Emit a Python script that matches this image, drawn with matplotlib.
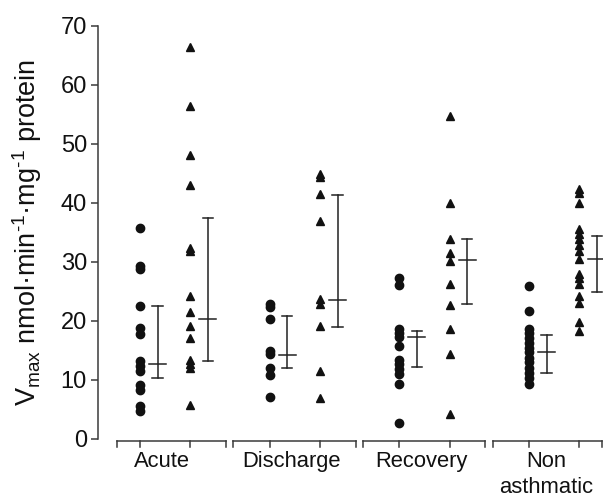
import matplotlib
matplotlib.use("Agg")
import matplotlib.pyplot as plt
import matplotlib.transforms as mtransforms

plt.rcParams['font.family'] = ['Liberation Sans', 'DejaVu Sans']
plt.rcParams['mathtext.fontset'] = 'custom'
plt.rcParams['mathtext.rm'] = 'Liberation Sans'
plt.rcParams['mathtext.it'] = 'Liberation Sans:italic'
plt.rcParams['mathtext.bf'] = 'Liberation Sans:bold'

# ---- data ----
categories = ["Acute", "Discharge", "Recovery", "Non\nasthmatic"]

circles = [
    [35.7, 29.3, 28.7, 22.5, 18.8, 17.7, 13.1, 12.3, 11.4, 9.1, 8.3, 5.5, 4.6],
    [22.9, 22.4, 20.2, 14.8, 14.3, 12.0, 10.7, 7.1],
    [27.3, 26.0, 18.6, 17.9, 17.3, 15.7, 13.4, 12.6, 11.8, 11.0, 9.2, 2.7],
    [25.9, 21.6, 18.6, 17.9, 17.0, 16.2, 15.4, 14.6, 13.6, 12.9, 12.0, 11.1, 10.2, 9.3],
]
triangles = [
    [66.4, 56.5, 48.1, 43.0, 32.4, 31.8, 24.2, 21.5, 19.1, 17.1, 13.4, 12.6, 11.9, 5.7],
    [44.9, 44.3, 41.5, 36.9, 23.6, 22.9, 19.1, 11.4, 6.9],
    [54.7, 39.9, 33.9, 31.4, 30.2, 26.3, 22.6, 18.5, 14.3, 4.1],
    [42.4, 41.6, 40.0, 35.5, 34.7, 33.8, 32.8, 31.9, 30.5, 28.0, 27.3, 26.3, 24.1, 23.0, 19.7, 18.2],
]
# median / lower / upper for each column
circ_mid = [12.7, 14.2, 17.3, 14.7]
circ_lo = [10.3, 12.0, 12.2, 11.2]
circ_hi = [22.5, 20.8, 18.3, 17.6]
tri_mid = [20.3, 23.5, 30.3, 30.5]
tri_lo = [13.1, 18.9, 22.8, 24.8]
tri_hi = [37.4, 41.3, 33.9, 34.4]

yticks = [0, 10, 20, 30, 40, 50, 60, 70]

# ---- figure ----
W, H = 603, 497
fig = plt.figure(figsize=(W / 100, H / 100), dpi=100)
ax = fig.add_axes([98 / W, (H - 438.5) / H, 505 / W, 412.5 / H])

tri_off = 0.388
err_off = 0.135
x_lo, x_hi = -0.177, 3.562
ax.set_xlim(-0.3238, 3.5698)
ax.set_ylim(0, 70)

ink = '#111111'
axis_col = '#3a3a3a'

for i in range(4):
    xc = i
    xt = i + tri_off
    ax.plot([xc] * len(circles[i]), circles[i], 'o', color=ink, ms=6.0,
            mec=ink, clip_on=False, zorder=3)
    ax.plot([xt] * len(triangles[i]), triangles[i], '^', color=ink, ms=6.4,
            mec=ink, clip_on=False, zorder=3)
    for x0, mid, lo, hi in [(xc + err_off, circ_mid[i], circ_lo[i], circ_hi[i]),
                            (xt + err_off, tri_mid[i], tri_lo[i], tri_hi[i])]:
        ax.plot([x0, x0], [lo, hi], color='#222222', lw=1.1, clip_on=False)
        for yy in (lo, hi):
            ax.plot([x0 - 0.04, x0 + 0.04], [yy, yy], color='#222222', lw=1.1, clip_on=False)
        ax.plot([x0 - 0.065, x0 + 0.065], [mid, mid], color='#222222', lw=1.1, clip_on=False)

# bracket axes below
trans = mtransforms.blended_transform_factory(ax.transData, ax.transAxes)
yb = -2.5 / 412.5
yt = -8.0 / 412.5
for i in range(4):
    a = max(i - 0.28, x_lo)
    b = min(i + tri_off + 0.275, x_hi)
    ax.plot([a, b], [yb, yb], color=axis_col, lw=1.1, transform=trans, clip_on=False)
    for xx in (a, i, i + tri_off, b):
        ax.plot([xx, xx], [yb, yt], color=axis_col, lw=1.1, transform=trans, clip_on=False)

label_x = [0.17, 1.17, 2.17, 3.13]
for i, lab in enumerate(categories):
    ax.text(label_x[i], -0.030, lab, transform=trans, ha='center', va='top',
            fontsize=15.8, linespacing=1.3, color='#111111')

for s in ['top', 'right', 'bottom']:
    ax.spines[s].set_visible(False)
ax.spines['left'].set_color(axis_col)
ax.spines['left'].set_linewidth(1.1)
ax.set_xticks([])
ax.set_yticks(yticks)
ax.tick_params(axis='y', direction='out', length=5, width=1.1, color=axis_col,
               labelsize=17, pad=3, labelcolor='#111111')
ax.set_ylabel(r'V$_{\mathrm{max}}$ nmol·min$^{\text{-1}}$·mg$^{\text{-1}}$ protein',
              fontsize=19.5, color='#111111')
ax.yaxis.set_label_coords(-0.106, 0.5)

fig.savefig('out.png', dpi=100)
